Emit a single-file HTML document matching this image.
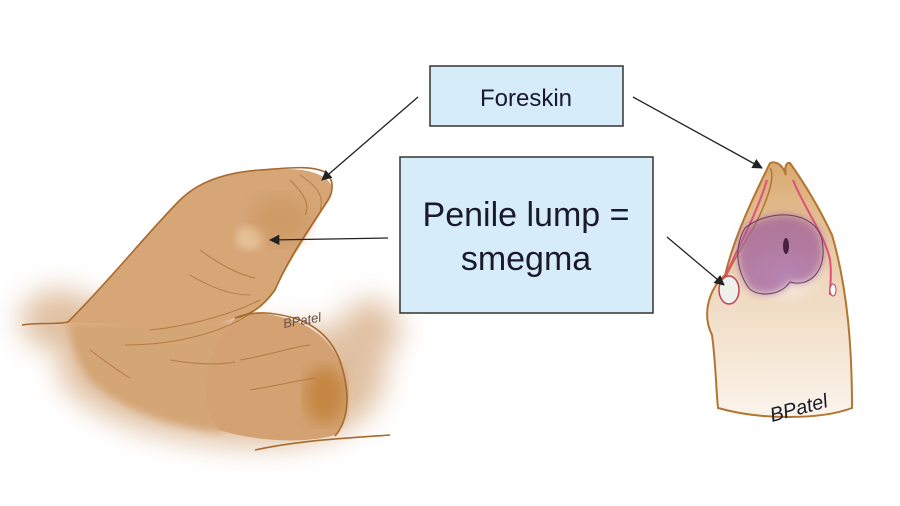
<!DOCTYPE html>
<html><head><style>
html,body{margin:0;padding:0;background:#fff;}
svg{display:block;}
text{font-family:"Liberation Sans",sans-serif;fill:#1a1a2a;}
</style></head><body>
<svg width="900" height="506" viewBox="0 0 900 506" xmlns="http://www.w3.org/2000/svg">
<defs>
<filter id="blur" x="-30%" y="-30%" width="160%" height="160%"><feGaussianBlur stdDeviation="14"/></filter>
<filter id="blur2"><feGaussianBlur stdDeviation="4"/></filter>
<filter id="blur3"><feGaussianBlur stdDeviation="8"/></filter>
<linearGradient id="rg" x1="0" y1="0" x2="0" y2="1"><stop offset="0" stop-color="#d9a86e"/><stop offset="0.5" stop-color="#efd9bf"/><stop offset="1" stop-color="#fbf4ec"/></linearGradient>
<radialGradient id="inner" cx="50%" cy="50%" r="50%"><stop offset="0" stop-color="#fbf2e8"/><stop offset="1" stop-color="#fbf2e8" stop-opacity="0"/></radialGradient>
<marker id="ah" viewBox="0 0 10 10" refX="9" refY="5" markerWidth="8" markerHeight="8" orient="auto"><path d="M0,0 L10,5 L0,10 z" fill="#222"/></marker>
</defs>
<rect width="900" height="506" fill="#fff"/>
<!-- left drawing halo -->
<g filter="url(#blur)" opacity="0.8">
<ellipse cx="60" cy="320" rx="40" ry="30" fill="#d8b08a"/>
<path d="M60,300 C120,300 200,320 260,330 C330,320 390,330 385,380 C370,440 300,450 230,445 C160,440 90,420 60,380 Z" fill="#d8b08a"/>
<ellipse cx="370" cy="330" rx="30" ry="30" fill="#d8b08a"/>
</g>
<!-- body base under shaft -->
<path d="M68,322 C120,322 180,320 235,318 C230,360 215,400 225,432 C180,430 120,410 90,380 C75,360 70,340 68,322 Z" fill="#d4a575" filter="url(#blur2)"/>
<!-- shaft -->
<path d="M68,322 C110,280 150,230 180,200 C200,180 230,172 260,170 C290,168 310,168 325,178 C335,185 333,195 328,202 C310,230 290,260 275,290 C260,310 245,318 235,318 C200,330 150,330 120,325 C100,322 80,324 68,322 Z" fill="#d6a677"/>
<!-- scrotum -->
<path d="M235,318 C250,312 265,312 285,318 C315,325 335,345 345,375 C350,400 345,425 335,435 C300,445 250,440 220,430 C200,410 200,360 235,318 Z" fill="#d3a172"/>
<ellipse cx="325" cy="395" rx="20" ry="28" fill="#c4853f" filter="url(#blur3)"/>
<ellipse cx="250" cy="238" rx="14" ry="12" fill="#e6c29a" filter="url(#blur2)"/>
<ellipse cx="280" cy="220" rx="30" ry="25" fill="#c89259" opacity="0.5" filter="url(#blur3)"/>
<!-- outlines -->
<path d="M22,325 C40,322 55,325 68,322 C110,280 150,230 180,200 C200,180 230,172 260,170 C290,168 310,165 325,172 C335,180 333,192 328,200 C312,225 290,255 275,290 C262,308 250,315 235,318" fill="none" stroke="#a8692c" stroke-width="1.6"/>
<path d="M235,318 C255,310 275,312 300,320 C325,330 340,350 345,380 C350,405 345,425 335,436 M255,450 C300,440 350,438 390,435" fill="none" stroke="#a8692c" stroke-width="1.6"/>
<path d="M300,175 C315,185 325,195 320,210 M290,180 C305,195 310,205 305,215 M150,330 C200,325 240,310 260,300 M125,345 C180,345 230,330 255,310 M90,350 C110,365 125,375 130,378 M200,250 C220,265 240,275 255,278 M190,275 C215,290 235,295 250,295 M240,360 C270,355 300,345 310,345 M250,390 C280,385 300,380 315,378 M115,225 M170,360 C200,365 220,365 235,362" fill="none" stroke="#a8692c" stroke-width="1" opacity="0.7"/>
<!-- right drawing -->
<g>
<path d="M770,163 C752,200 735,235 725,275 C708,290 702,315 712,335 C716,365 716,390 718,408 C760,420 820,420 852,408 C852,350 848,290 832,235 C818,205 802,180 790,163 C786,162 784,168 786,175 C784,168 778,160 770,163 Z" fill="url(#rg)" stroke="#b37530" stroke-width="2"/>
<path d="M770,168 C775,175 770,195 755,225 C740,250 728,270 720,290" fill="none" stroke="#b37530" stroke-width="1.5"/>
<path d="M767,180 C758,210 742,240 728,270 C722,285 722,300 735,300 M793,180 C805,210 825,235 830,260 C832,275 830,285 830,295" fill="none" stroke="#e0507a" stroke-width="2"/>
<ellipse cx="785" cy="275" rx="45" ry="30" fill="url(#inner)"/>
<path d="M745,228 C770,208 815,210 822,240 C828,270 810,288 790,282 C780,297 755,297 748,287 C735,267 735,245 745,228 Z" fill="#a0609e" opacity="0.75" filter="url(#blur2)"/>
<path d="M745,228 C770,208 815,210 822,240 C828,270 810,288 790,282 C780,297 755,297 748,287 C735,267 735,245 745,228 Z" fill="none" stroke="#6a3a6a" stroke-width="1"/>
<ellipse cx="786" cy="246" rx="3" ry="8" fill="#4a2040"/>
<ellipse cx="729" cy="290" rx="10" ry="14" fill="#eef0ea" stroke="#c04060" stroke-width="1.5"/>
<ellipse cx="833" cy="290" rx="3" ry="6" fill="#fff" stroke="#c04060"/>
</g>
<!-- boxes -->
<rect x="430" y="66" width="193" height="60" fill="#d6ecf9" stroke="#333" stroke-width="1.5"/>
<text x="526" y="106" font-size="24" text-anchor="middle">Foreskin</text>
<rect x="400" y="157" width="253" height="156" fill="#d6ecf9" stroke="#333" stroke-width="1.5"/>
<text x="526" y="226" font-size="34" text-anchor="middle">Penile lump =</text>
<text x="526" y="270" font-size="34" text-anchor="middle">smegma</text>
<text x="284" y="328" font-size="13" font-style="italic" style="fill:#6a5048" transform="rotate(-10 284 328)">BPatel</text>
<text x="772" y="422" font-size="20" font-style="italic" transform="rotate(-15 772 422)">BPatel</text>
<!-- arrows -->
<g stroke="#222" stroke-width="1.3" fill="none" marker-end="url(#ah)">
<path d="M418,97 L322,180"/>
<path d="M633,97 L762,168"/>
<path d="M388,238 L270,240"/>
<path d="M667,237 L724,285"/>
</g>
</svg>
</body></html>
